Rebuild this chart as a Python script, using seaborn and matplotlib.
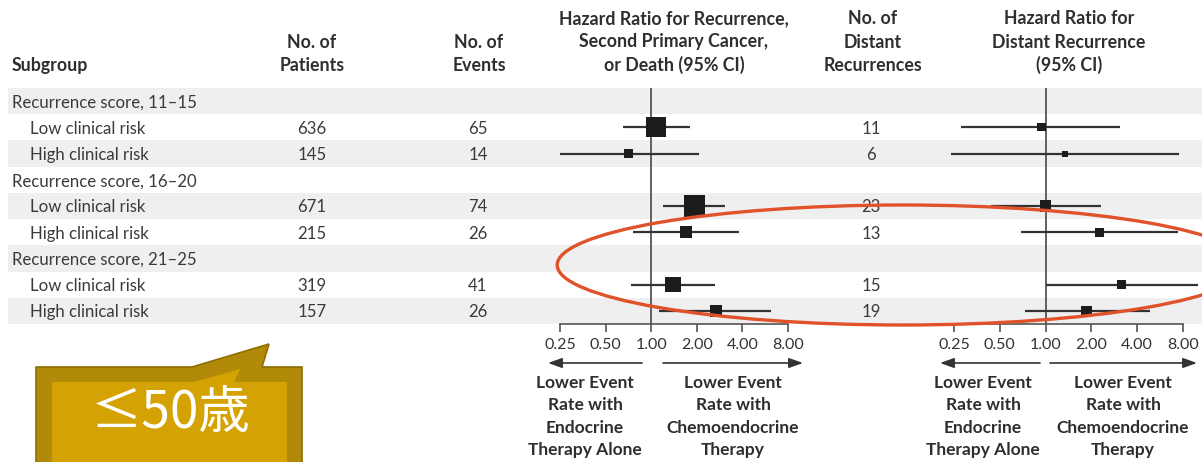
import numpy as np
import pandas as pd
import matplotlib
matplotlib.use("Agg")
import matplotlib.pyplot as plt
import matplotlib.transforms as mtransforms
from matplotlib.patches import Ellipse, Polygon
import seaborn as sns

# ---------------- data ----------------
subgroups = ["Recurrence score, 11\u201315", "Low clinical risk", "High clinical risk",
             "Recurrence score, 16\u201320", "Low clinical risk", "High clinical risk",
             "Recurrence score, 21\u201325", "Low clinical risk", "High clinical risk"]
is_header = [True, False, False, True, False, False, True, False, False]
patients = [None, 636, 145, None, 671, 215, None, 319, 157]
events = [None, 65, 14, None, 74, 26, None, 41, 26]
distant = [None, 11, 6, None, 23, 13, None, 15, 19]

data_rows = [1, 2, 4, 5, 7, 8]
hr_event = [1.08, 0.71, 1.92, 1.70, 1.39, 2.67]
lo_event = [0.65, 0.25, 1.19, 0.76, 0.74, 1.13]
hi_event = [1.79, 2.06, 3.09, 3.81, 2.62, 6.19]
n_event = [65, 14, 74, 26, 41, 26]

hr_dist = [0.94, 1.35, 1.00, 2.27, 3.15, 1.85]
lo_dist = [0.28, 0.24, 0.44, 0.69, 1.01, 0.73]
hi_dist = [3.10, 7.56, 2.30, 7.37, 10.1, 4.82]
n_dist = [11, 6, 23, 13, 15, 19]

ticks = [0.25, 0.5, 1, 2, 4, 8]
tick_labels = ["0.25", "0.50", "1.00", "2.00", "4.00", "8.00"]

# ---------------- style ----------------
sns.set_theme(style="white")
plt.rcParams["font.family"] = ["Lato", "Noto Sans CJK JP", "DejaVu Sans"]

W, H = 1202, 462
fig = plt.figure(figsize=(W / 100, H / 100), dpi=100)


def fx(x):
    return x / W


def fy(y):
    return 1 - y / H


TXT = "#3a3a3a"
HDR = "#2e2e2e"
BODY_FS = 12.1
HDR_FS = 12.8
LBL_FS = 12.5

# row geometry (pixels)
top_px, bot_px = 88, 324

# background bands axes
bg = fig.add_axes([fx(8), fy(bot_px), 1 - fx(8), (bot_px - top_px) / H])
bg.set_xlim(0, 1)
bg.set_ylim(8.5, -0.5)
bg.axis("off")
bg.set_zorder(0)
for i in range(0, 9, 2):
    bg.axhspan(i - 0.5, i + 0.5, color="#efefef", lw=0)

tr = mtransforms.blended_transform_factory(fig.transFigure, bg.transData)
for i, name in enumerate(subgroups):
    x0 = 12 if is_header[i] else 30
    bg.text(fx(x0), i, name, transform=tr, ha="left", va="center_baseline",
            fontsize=BODY_FS, color=TXT)
    if patients[i] is not None:
        bg.text(fx(312), i, str(patients[i]), transform=tr, ha="center",
                va="center_baseline", fontsize=BODY_FS, color=TXT)
        bg.text(fx(478), i, str(events[i]), transform=tr, ha="center",
                va="center_baseline", fontsize=BODY_FS, color=TXT)
        bg.text(fx(871), i, str(distant[i]), transform=tr, ha="center",
                va="center_baseline", fontsize=BODY_FS, color=TXT)

# header text
line_y = [19, 42, 65]


def header(xc, lines, ha="center"):
    start = 3 - len(lines)
    for k, t in enumerate(lines):
        fig.text(fx(xc), fy(line_y[start + k]), t, ha=ha, va="center",
                 fontsize=HDR_FS, fontweight="bold", color=HDR)


header(12, ["Subgroup"], ha="left")
header(312, ["No. of", "Patients"])
header(479, ["No. of", "Events"])
header(674, ["Hazard Ratio for Recurrence,", "Second Primary Cancer,", "or Death (95% CI)"])
header(873, ["No. of", "Distant", "Recurrences"])
header(1069, ["Hazard Ratio for", "Distant Recurrence", "(95% CI)"])


# forest plots
def forest(x_left, x_right, hr, lo, hi, n):
    ax = fig.add_axes([fx(x_left), fy(bot_px), (x_right - x_left) / W, (bot_px - top_px) / H])
    ax.set_zorder(2)
    ax.patch.set_alpha(0)
    df = pd.DataFrame({"hr": hr, "row": data_rows, "n": n})
    k = 3.1
    ax.axvline(1, color="#555555", lw=1.3, zorder=1)
    ax.hlines(data_rows, lo, hi, color="#333333", lw=1.6, zorder=2, clip_on=False)
    sns.scatterplot(data=df, x="hr", y="row", size="n",
                    sizes=(k * min(n), k * max(n)), size_norm=(min(n), max(n)),
                    marker="s", color="#1c1c1c", linewidth=0, legend=False,
                    ax=ax, zorder=3, clip_on=False)
    ax.set_xscale("log", base=2)
    ax.set_xlim(0.25, 8)
    ax.set_ylim(8.5, -0.5)
    ax.set_xticks(ticks)
    ax.set_xticklabels(tick_labels)
    ax.minorticks_off()
    ax.set_yticks([])
    ax.set_xlabel("")
    ax.set_ylabel("")
    for s in ["top", "right", "left"]:
        ax.spines[s].set_visible(False)
    ax.spines["bottom"].set_color("#555555")
    ax.spines["bottom"].set_linewidth(1.2)
    ax.tick_params(axis="x", bottom=True, direction="out", length=6, width=1.2,
                   color="#555555", labelsize=11.5, labelcolor="#333333", pad=4)
    return ax


ax1 = forest(560, 788, hr_event, lo_event, hi_event, n_event)
ax2 = forest(954, 1183, hr_dist, lo_dist, hi_dist, n_dist)

# overlay for annotations
ov = fig.add_axes([0, 0, 1, 1])
ov.set_xlim(0, W)
ov.set_ylim(H, 0)
ov.axis("off")
ov.set_zorder(5)
ov.patch.set_alpha(0)

arrow_kw = dict(arrowstyle="-|>,head_length=0.7,head_width=0.25", color="#333333", lw=1.2,
                shrinkA=0, shrinkB=0)
for (a, b) in [((642, 363), (548, 363)), ((663, 363), (803, 363)),
               ((1040, 363), (940, 363)), ((1050, 363), (1197, 363))]:
    ov.annotate("", xy=b, xytext=a, arrowprops=arrow_kw)

left_lbl = ["Lower Event", "Rate with", "Endocrine", "Therapy Alone"]
right_lbl = ["Lower Event", "Rate with", "Chemoendocrine", "Therapy"]
for xc, lines in [(585, left_lbl), (733, right_lbl), (983, left_lbl), (1123, right_lbl)]:
    for k, t in enumerate(lines):
        ov.text(xc, 383 + 22.5 * k, t, ha="center", va="center", fontsize=LBL_FS,
                fontweight="bold", color=HDR)

# orange ellipse highlight
ov.add_patch(Ellipse((902.7, 265), 691, 120, fill=False, edgecolor="#e0522a", lw=2.4, zorder=6))

# callout box
outer = [(36, 367), (192, 367), (269, 344), (262, 367), (302, 367), (302, 475), (36, 475)]
inner = [(52, 382), (194, 382), (240, 369), (234, 382), (287, 382), (287, 475), (52, 475)]
ov.add_patch(Polygon(outer, closed=True, facecolor="#b08a08", edgecolor="#8e6e00", lw=1.2, zorder=7))
ov.add_patch(Polygon(inner, closed=True, facecolor="#d5a204", edgecolor="none", zorder=8))
ov.text(171, 413, "\u226450\u6b73", ha="center", va="center", fontsize=37, color="white",
        family=["Noto Sans CJK JP", "DejaVu Sans"], fontweight="normal", zorder=9)

fig.savefig("out.png", dpi=100)
